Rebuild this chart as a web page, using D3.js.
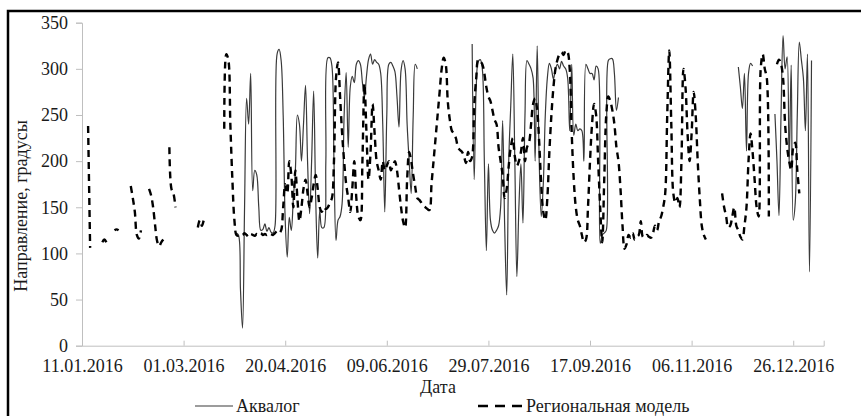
<!DOCTYPE html>
<html>
<head>
<meta charset="utf-8">
<script src="https://cdn.jsdelivr.net/npm/d3@7"></script>
<style>
  html, body { margin: 0; padding: 0; background: #fff; }
  svg { display: block; }
  text { font-family: "Liberation Serif", "Times New Roman", Tinos, serif; fill: #1a1a1a; }
</style>
</head>
<body>
<svg id="chart" width="861" height="416"></svg>
<script>
const serif = '"Liberation Serif", "Times New Roman", Tinos, serif';

// axis ticks
const xTickLabels = ["11.01.2016", "01.03.2016", "20.04.2016", "09.06.2016",
                     "29.07.2016", "17.09.2016", "06.11.2016", "26.12.2016"];
const yTicks = [0, 50, 100, 150, 200, 250, 300, 350];
const xDomain = ["11.01.2016", "10.01.2017"];

// Аквалог: daily values, each run starts on the given date
const aqualogStarts = ["27.03.2016", "21.07.2016", "29.11.2016", "17.12.2016"];
const aqualogValues = [
  [122, 120, 60, 19, 150, 268, 240, 295, 168, 190, 185, 150, 125, 126, 132, 124, 128, 123, 122, 130,
   316, 321, 309, 250, 136, 96, 139, 125, 160, 190, 250, 240, 200, 240, 282, 200, 143, 200, 276, 160,
   95, 147, 128, 128, 200, 312, 312, 303, 200, 114, 136, 140, 154, 250, 296, 215, 280, 292, 285, 305,
   309, 305, 285, 269, 292, 310, 316, 305, 310, 307, 305, 295, 240, 145, 250, 305, 307, 303, 297, 270,
   237, 298, 309, 300, 240, 200, 165, 250, 305, 300],
  [327, 180, 280, 308, 310, 300, 200, 103, 197, 136, 125, 122, 125, 130, 150, 244, 130, 55, 200, 260,
   316, 200, 75, 150, 197, 133, 250, 309, 305, 300, 290, 200, 325, 200, 140, 175, 250, 290, 306, 300,
   289, 300, 305, 300, 308, 303, 300, 290, 233, 305, 228, 240, 233, 235, 233, 200, 305, 300, 295, 295,
   288, 303, 300, 111, 120, 122, 125, 309, 311, 311, 295, 255, 269],
  [302, 280, 257, 295, 211, 295, 306, 303],
  [251, 200, 141, 250, 336, 300, 313, 197, 304, 136, 155, 250, 329, 310, 290, 233, 316, 80, 309]
];

// Региональная модель: daily values, each run starts on the given date
const modelStarts = ["14.01.2016", "21.01.2016", "27.01.2016", "04.02.2016", "13.02.2016",
                     "23.02.2016", "08.03.2016", "21.03.2016", "21.11.2016", "18.12.2016"];
const modelValues = [
  [238, 106],
  [112, 115, 112],
  [125, 126, 125],
  [173, 160, 145, 120, 116, 125],
  [170, 163, 150, 130, 113, 108, 112, 115],
  [215, 170, 165, 150],
  [128, 136, 130, 137],
  [235, 316, 310, 240, 180, 136, 120, 119, 121, 120, 122, 120, 118, 121, 120, 119, 121, 120, 122, 120,
   121, 120, 122, 121, 120, 122, 124, 122, 125, 150, 175, 165, 200, 185, 150, 190, 160, 135, 150, 170,
   180, 165, 150, 160, 175, 185, 170, 150, 145, 150, 148, 150, 155, 160, 200, 290, 307, 270, 230, 200,
   175, 160, 145, 170, 200, 160, 140, 136, 200, 284, 230, 180, 210, 262, 230, 200, 190, 180, 200, 190,
   195, 200, 190, 195, 200, 190, 170, 150, 135, 128, 180, 210, 200, 185, 172, 160, 158, 155, 152, 150,
   148, 147, 175, 200, 225, 250, 275, 300, 312, 305, 265, 245, 233, 230, 225, 215, 212, 210, 205, 198,
   210, 200, 205, 260, 290, 310, 308, 305, 295, 280, 270, 265, 255, 245, 240, 215, 200, 185, 160, 170,
   195, 215, 225, 205, 195, 200, 210, 225, 200, 215, 220, 240, 262, 268, 255, 220, 175, 145, 136, 160,
   210, 250, 280, 300, 310, 316, 318, 315, 320, 318, 300, 230, 180, 150, 136, 130, 120, 112, 115, 150,
   200, 240, 262, 250, 200, 150, 112, 180, 250, 270, 265, 255, 240, 215, 200, 170, 130, 105, 110, 120,
   117, 122, 115, 118, 120, 135, 118, 117, 120, 118, 117, 122, 130, 125, 135, 140, 150, 165, 250, 320,
   240, 165, 155, 160, 150, 200, 300, 280, 230, 200, 230, 275, 250, 200, 160, 130, 120, 115],
  [165, 150, 140, 128, 130, 140, 150, 130, 125, 118, 115, 130, 150, 200, 230, 210, 180, 150, 140, 300,
   316, 300, 290, 140],
  [305, 310, 305, 290, 240, 215, 200, 190, 215, 220, 190, 165]
];

const parse = d3.timeParse("%d.%m.%Y");

function toRuns(starts, values) {
  return starts.map((s, i) => {
    const t0 = parse(s);
    return values[i].map((v, k) => ({ date: d3.timeDay.offset(t0, k), value: v }));
  });
}

const aqualogRuns = toRuns(aqualogStarts, aqualogValues);
const modelRuns = toRuns(modelStarts, modelValues);

const svg = d3.select("#chart");

// outer frame (only its left and top edges fall inside the picture)
svg.append("rect")
  .attr("x", 8).attr("y", 11).attr("width", 900).attr("height", 500)
  .attr("fill", "none").attr("stroke", "#000").attr("stroke-width", 2.5);

const x = d3.scaleTime().domain(xDomain.map(parse)).range([82, 823.7]);
const y = d3.scaleLinear().domain([0, 350]).range([345.7, 22.7]);

// y axis
const yAxis = svg.append("g")
  .attr("transform", `translate(${x.range()[0]},0)`)
  .call(d3.axisLeft(y).tickValues(yTicks).tickSize(6).tickPadding(8));
yAxis.attr("font-family", serif);
yAxis.select(".domain").attr("stroke", "#bfbfbf");
yAxis.selectAll(".tick line").attr("stroke", "#bfbfbf");
yAxis.selectAll(".tick text").attr("font-size", 18)
  .style("font-family", serif).attr("fill", "#1a1a1a");

// x axis
const xAxis = svg.append("g")
  .attr("transform", `translate(0,${y(0)})`)
  .call(d3.axisBottom(x).tickValues(xTickLabels.map(parse))
    .tickFormat(d3.timeFormat("%d.%m.%Y")).tickSize(-5).tickPadding(14));
xAxis.attr("font-family", serif);
xAxis.select(".domain").attr("stroke", "#bfbfbf");
xAxis.selectAll(".tick line").attr("stroke", "#bfbfbf");
xAxis.selectAll(".tick text").attr("font-size", 18)
  .style("font-family", serif).attr("fill", "#1a1a1a");

const line = d3.line()
  .x(d => x(d.date))
  .y(d => y(d.value))
  .curve(d3.curveCatmullRom.alpha(0.5));

// series
svg.append("g").selectAll("path")
  .data(aqualogRuns)
  .join("path")
  .attr("d", line)
  .attr("fill", "none")
  .attr("stroke", "#3a3a3a")
  .attr("stroke-width", 1.2);

svg.append("g").selectAll("path")
  .data(modelRuns)
  .join("path")
  .attr("d", line)
  .attr("fill", "none")
  .attr("stroke", "#000")
  .attr("stroke-width", 2.4)
  .attr("stroke-dasharray", "7,5");

// axis titles
svg.append("text")
  .attr("transform", "translate(27,206) rotate(-90)")
  .attr("text-anchor", "middle")
  .attr("font-size", 18)
  .style("font-family", serif)
  .text("Направление, градусы");

svg.append("text")
  .attr("x", 438).attr("y", 393)
  .attr("text-anchor", "middle")
  .attr("font-size", 18)
  .style("font-family", serif)
  .text("Дата");

// legend
const legend = svg.append("g").style("font-family", serif);
legend.append("line")
  .attr("x1", 195).attr("x2", 233).attr("y1", 406).attr("y2", 406)
  .attr("stroke", "#3a3a3a").attr("stroke-width", 1.2);
legend.append("text")
  .attr("x", 236).attr("y", 412).attr("font-size", 18)
  .style("font-family", serif)
  .text("Аквалог");
legend.append("line")
  .attr("x1", 478).attr("x2", 523).attr("y1", 406).attr("y2", 406)
  .attr("stroke", "#000").attr("stroke-width", 2.4).attr("stroke-dasharray", "10,7");
legend.append("text")
  .attr("x", 526).attr("y", 412).attr("font-size", 18)
  .style("font-family", serif)
  .text("Региональная модель");
</script>
</body>
</html>
